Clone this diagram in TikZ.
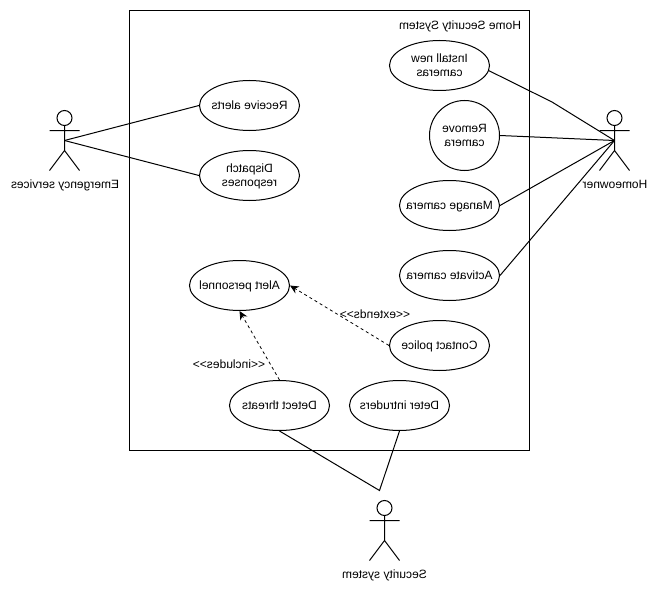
\documentclass[tikz,border=0pt]{standalone}
\usepackage{fontspec}
\setmainfont{Liberation Sans}
\usetikzlibrary{arrows.meta,shapes.geometric}
% Every label in this figure is set mirrored left to right.
\newcommand{\flip}[1]{\reflectbox{\begin{tabular}{@{}c@{}}#1\end{tabular}}}
% Ellipse text takes no room, so the ellipses keep their fixed size.
\newcommand{\cased}[1]{\makebox[0pt]{\raisebox{-3pt}[0pt][0pt]{\flip{#1}}}}
\tikzset{
  usecase/.style={draw=black,ellipse,line width=0.75pt,minimum width=75pt,minimum height=37.5pt,inner sep=0pt,font=\fontsize{9pt}{10.8pt}\selectfont},
  label text/.style={inner sep=0pt,yshift=-1.5pt,font=\fontsize{9pt}{10.8pt}\selectfont},
  link/.style={draw=black,line width=0.75pt},
  dep/.style={draw=black,line width=0.6pt,dash pattern=on 2.25pt off 2.25pt,-{Stealth[length=6.5pt,width=6pt]}},
  actor/.pic={
    \draw[line width=0.75pt] (0,-7.5) circle[radius=7.5];
    \draw[line width=0.75pt] (0,0) -- (0,25) (-15,5) -- (15,5) (-15,45) -- (0,25) -- (15,45);
  },
}
\begin{document}
\begin{tikzpicture}[x=0.75pt,y=-0.75pt]
\useasboundingbox (0,0) rectangle (657,592);
% system boundary
\node[draw=black,line width=0.75pt,minimum width=300pt,minimum height=330pt,inner sep=0pt] (boundary) at (329.5,230.5) {};
\node[label text] (title) at (460,24.5) {\flip{Home Security System}};

% use cases
\node[usecase] (install) at (439.5,65.5) {\cased{Install new\\cameras}};
\node[usecase,minimum width=52.5pt,minimum height=52.5pt] (remove) at (464.5,135.5) {\cased{Remove\\camera}};
\node[usecase] (manage) at (449.5,205.5) {\cased{Manage camera}};
\node[usecase] (activate) at (449.5,275.5) {\cased{Activate camera}};
\node[usecase] (receive) at (249.5,105.5) {\cased{Receive alerts}};
\node[usecase] (dispatch) at (249.5,175.5) {\cased{Dispatch\\responses}};
\node[usecase] (alert) at (239.5,285.5) {\cased{Alert personnel}};
\node[usecase] (contact) at (439.5,345.5) {\cased{Contact police}};
\node[usecase] (deter) at (399.5,405.5) {\cased{Deter intruders}};
\node[usecase] (detect) at (279.5,405.5) {\cased{Detect threats}};

% actors
\pic at (614.5,125.5) {actor};
\coordinate (home) at (614.5,140.5);
\node[label text] (homelabel) at (615,183.5) {\flip{Homeowner}};
\pic at (64.5,125.5) {actor};
\coordinate (emerg) at (64.5,140.5);
\node[label text] (emerglabel) at (65,183.5) {\flip{Emergency services}};
\pic at (384.5,515.5) {actor};
\coordinate (sec) at (379.5,490.5);
\node[label text] (seclabel) at (384.5,573.5) {\flip{Security system}};

% associations
\coordinate (bend) at (552,102);
\draw[link] (install.-6) -- (bend) -- (home);
\draw[link] (remove.east) -- (home);
\draw[link] (manage.east) -- (home);
\draw[link] (activate.east) -- (home);
\draw[link] (emerg) -- (receive.west);
\draw[link] (emerg) -- (dispatch.west);
\draw[link] (detect.south) -- (sec) -- (deter.south);

% dependencies
\draw[dep] (contact.west) -- (alert.east);
\draw[dep] (detect.north) -- (alert.south);
\node[label text] (extends) at (375,313.5) {\flip{<{}<extends>{}>}};
\node[label text] (includes) at (229,363.5) {\flip{<{}<includes>{}>}};
\end{tikzpicture}
\end{document}
